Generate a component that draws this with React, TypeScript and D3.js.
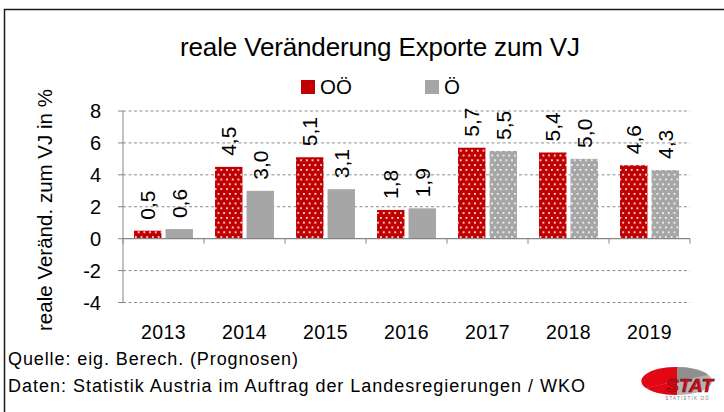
import * as d3 from 'd3'

// data
const years = ['2013', '2014', '2015', '2016', '2017', '2018', '2019']
const seriesNames = ['OÖ', 'Ö']
const valuesOOe = [0.5, 4.5, 5.1, 1.8, 5.7, 5.4, 4.6]
const valuesOe = [0.6, 3.0, 3.1, 1.9, 5.5, 5.0, 4.3]
const yTicks = [-4, -2, 0, 2, 4, 6, 8]
// forecast years get the dotted fill for the grey series too
const forecastYears = ['2017', '2018', '2019']

const title = 'reale Veränderung Exporte zum VJ'
const yTitle = 'reale Veränd. zum VJ in %'
const source1 = 'Quelle: eig. Berech. (Prognosen)'
const source2 = 'Daten: Statistik Austria im Auftrag der Landesregierungen / WKO'

const RED = '#c00000'
const GREY = '#a6a6a6'
const FONT = "'Liberation Sans', Arial, sans-serif"

const App = () => {
    const plot = {left: 123, right: 690, top: 111, bottom: 302.5}

    const x = d3.scaleBand<string>()
        .domain(years)
        .range([plot.left, plot.right])

    const xs = d3.scaleBand<string>()
        .domain(seriesNames)
        .range([0, x.bandwidth()])
        .paddingInner(0.13)
        .paddingOuter(0.35)

    const y = d3.scaleLinear()
        .domain([-4, 8])
        .range([plot.bottom, plot.top])

    const fmt = (v: number) => v.toFixed(1).replace('.', ',')

    const bars = years.flatMap((yr, i) => {
        return seriesNames.map((s, j) => {
            const v = j === 0 ? valuesOOe[i] : valuesOe[i]
            const bx = x(yr)! + xs(s)!
            const top = y(Math.max(v, 0))
            const h = Math.abs(y(v) - y(0))
            let fill = j === 0 ? 'url(#dotsRed)' : GREY
            if (j === 1 && forecastYears.includes(yr)) fill = 'url(#dotsGrey)'
            const cx = bx + xs.bandwidth() / 2
            return (
                <g key={yr + s}>
                    <rect x={bx} y={top} width={xs.bandwidth()} height={h} fill={fill}/>
                    <text
                        transform={`translate(${cx + 7.5},${top - 11}) rotate(-90)`}
                        fontSize={21}
                        fill="#000"
                    >{fmt(v)}</text>
                </g>
            )
        })
    })

    return (
        <svg width={724} height={412} style={{position: 'absolute', left: 0, top: 0}} fontFamily={FONT}>
            <defs>
                <pattern id="dotsRed" width={5.7} height={9.6} patternUnits="userSpaceOnUse">
                    <rect width={5.7} height={9.6} fill={RED}/>
                    <rect x={1} y={1} width={1.7} height={1.7} fill="#fff"/>
                    <rect x={3.85} y={5.8} width={1.7} height={1.7} fill="#fff"/>
                </pattern>
                <pattern id="dotsGrey" width={5.7} height={9.6} patternUnits="userSpaceOnUse">
                    <rect width={5.7} height={9.6} fill={GREY}/>
                    <rect x={1} y={1} width={1.7} height={1.7} fill="#fff"/>
                    <rect x={3.85} y={5.8} width={1.7} height={1.7} fill="#fff"/>
                </pattern>
            </defs>
            <rect x={0} y={0} width={724} height={412} fill="#fff"/>
            {/* outer frame */}
            <path d="M4.5,420 V9.5 H730" fill="none" stroke="#1a1a1a" strokeWidth={1.5}/>

            <text x={380} y={56} textAnchor="middle" fontSize={26} textLength={400} lengthAdjust="spacing">{title}</text>

            {/* legend */}
            <rect x={301} y={80} width={14} height={14} fill={RED}/>
            <text x={320} y={94} fontSize={20.5}>{seriesNames[0]}</text>
            <rect x={425} y={80} width={14} height={14} fill={GREY}/>
            <text x={444} y={94} fontSize={20.5}>{seriesNames[1]}</text>

            {/* gridlines */}
            {yTicks.filter(t => t !== 0).map(t => (
                <line key={t} x1={plot.left} x2={plot.right} y1={y(t)} y2={y(t)}
                      stroke="#8c8c8c" strokeDasharray="3,2.5" strokeWidth={1}/>
            ))}
            {/* y axis */}
            <line x1={plot.left} x2={plot.left} y1={plot.top} y2={plot.bottom} stroke="#868686"/>
            {yTicks.map(t => (
                <g key={t}>
                    <line x1={plot.left - 5} x2={plot.left} y1={y(t)} y2={y(t)} stroke="#868686"/>
                    <text x={101} y={y(t) + 7} textAnchor="end" fontSize={20}>{t}</text>
                </g>
            ))}

            {bars}

            {/* x axis at zero */}
            <line x1={plot.left} x2={plot.right} y1={y(0)} y2={y(0)} stroke="#868686" strokeWidth={1.3}/>
            {years.map(yr => (
                <line key={yr} x1={x(yr)!} x2={x(yr)!} y1={y(0)} y2={y(0) + 5} stroke="#868686"/>
            ))}
            <line x1={plot.right} x2={plot.right} y1={y(0)} y2={y(0) + 5} stroke="#868686"/>

            {years.map(yr => (
                <text key={yr} x={x(yr)! + x.bandwidth() / 2} y={339} textAnchor="middle" fontSize={19.5} letterSpacing={0.4}>{yr}</text>
            ))}

            <text transform="translate(52,210) rotate(-90)" textAnchor="middle" fontSize={20.5}
                  textLength={242} lengthAdjust="spacing">{yTitle}</text>

            <text x={8} y={365} fontSize={18} textLength={290} lengthAdjust="spacing">{source1}</text>
            <text x={8} y={392} fontSize={18} textLength={577} lengthAdjust="spacing">{source2}</text>

            {/* logo */}
            <g>
                <ellipse cx={677} cy={381} rx={35} ry={14} fill="#b3b3b3"/>
                <path d="M677,381 L677,367 A35,14 0 0 0 646,388 Z" fill="#e30613"/>
                <path d="M677,381 L646,388 A35,14 0 0 0 677,395 Z" fill="#e30613"/>
                <path d="M677,381 L677,367 A35,14 0 0 1 708,375 Z" fill="#8f8f8f"/>
                <text x={713} y={392} textAnchor="end" fontSize={19} fontWeight="bold" fontStyle="italic"
                      fill="#e30613" stroke="#5a1010" strokeWidth={0.6}>STAT</text>
                <text x={710} y={400} textAnchor="end" fontSize={4.5} fill="#777" letterSpacing={1.2}>STATISTIK OÖ</text>
            </g>
        </svg>
    )
}

export default App
